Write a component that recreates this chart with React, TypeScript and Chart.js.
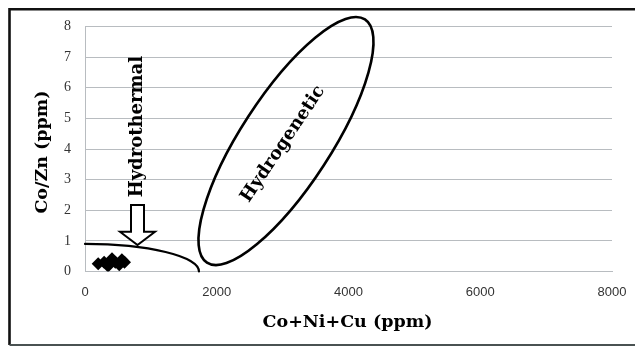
import React, { useEffect, useRef } from "react";
import { Chart, registerables } from "chart.js";

Chart.register(...registerables);

// Sample analyses: Co+Ni+Cu (ppm) against Co/Zn ratio
const sampleCoNiCu = [200, 290, 350, 410, 460, 520, 560, 600];
const sampleCoZn = [0.25, 0.3, 0.18, 0.42, 0.3, 0.22, 0.38, 0.3];

const xTickValues = [0, 2000, 4000, 6000, 8000];
const yTickValues = [0, 1, 2, 3, 4, 5, 6, 7, 8];

// Hydrogenetic field: major-axis end points (data units) and minor/major ratio
const hydrogeneticAxisStart = [1852, 0.29];
const hydrogeneticAxisEnd = [4250, 8.23];
const hydrogeneticAspect = 0.31;

// Hydrothermal field boundary: meets the x axis at limitX, the y axis at limitY
const hydrothermalLimitX = 1730;
const hydrothermalLimitY = 0.9;

// Arrow pointing at the hydrothermal field
const arrowX = 797;
const arrowTop = 2.17;
const arrowHeadBase = 1.3;
const arrowTip = 0.865;

// Field labels (anchor positions in data units)
const hydrothermalLabel = { text: "Hydrothermal", x: 797, y: 4.73, angle: -90 };
const hydrogeneticLabel = { text: "Hydrogenetic", x: 3006, y: 4.16, angle: -56 };

const xTitle = "Co+Ni+Cu (ppm)";
const yTitle = "Co/Zn (ppm)";

const TITLE_FONT = "bold 17.5px 'DejaVu Serif'";
const FIELD_FONT = "bold 18px 'DejaVu Serif'";

const fieldsPlugin = {
  id: "fields",
  afterDatasetsDraw(chart: any) {
    const { ctx, scales } = chart;
    const xs = scales.x;
    const ys = scales.y;
    const px = (v: number) => xs.getPixelForValue(v);
    const py = (v: number) => ys.getPixelForValue(v);

    ctx.save();
    ctx.strokeStyle = "#000";
    ctx.lineCap = "round";

    // hydrogenetic ellipse
    const x1 = px(hydrogeneticAxisStart[0]);
    const y1 = py(hydrogeneticAxisStart[1]);
    const x2 = px(hydrogeneticAxisEnd[0]);
    const y2 = py(hydrogeneticAxisEnd[1]);
    const cx = (x1 + x2) / 2;
    const cy = (y1 + y2) / 2;
    const a = Math.hypot(x2 - x1, y2 - y1) / 2;
    const rot = Math.atan2(y2 - y1, x2 - x1);
    ctx.lineWidth = 2.6;
    ctx.beginPath();
    ctx.ellipse(cx, cy, a, a * hydrogeneticAspect, rot, 0, Math.PI * 2);
    ctx.stroke();

    // hydrothermal boundary (quarter ellipse about the origin)
    const ox = px(0);
    const oy = py(0);
    const rx = px(hydrothermalLimitX) - ox;
    const ry = oy - py(hydrothermalLimitY);
    ctx.lineWidth = 2.2;
    ctx.beginPath();
    ctx.ellipse(ox, oy, rx, ry, 0, -Math.PI / 2, 0);
    ctx.stroke();

    // hollow arrow
    const ax = px(arrowX);
    const aTop = py(arrowTop);
    const aBase = py(arrowHeadBase);
    const aTip = py(arrowTip);
    const shaftHalf = 6.5;
    const headHalf = 17.5;
    ctx.lineWidth = 2;
    ctx.lineJoin = "miter";
    ctx.fillStyle = "#fff";
    ctx.beginPath();
    ctx.moveTo(ax - shaftHalf, aTop);
    ctx.lineTo(ax + shaftHalf, aTop);
    ctx.lineTo(ax + shaftHalf, aBase);
    ctx.lineTo(ax + headHalf, aBase);
    ctx.lineTo(ax, aTip);
    ctx.lineTo(ax - headHalf, aBase);
    ctx.lineTo(ax - shaftHalf, aBase);
    ctx.closePath();
    ctx.fill();
    ctx.stroke();

    // field labels
    ctx.fillStyle = "#000";
    ctx.font = FIELD_FONT;
    ctx.textAlign = "center";
    ctx.textBaseline = "middle";
    for (const lbl of [hydrothermalLabel, hydrogeneticLabel]) {
      ctx.save();
      ctx.translate(px(lbl.x), py(lbl.y));
      ctx.rotate((lbl.angle * Math.PI) / 180);
      ctx.fillText(lbl.text, 0, 0);
      ctx.restore();
    }
    ctx.restore();
  },
  afterDraw(chart: any) {
    const { ctx, width, height, chartArea } = chart;
    ctx.save();
    // axis titles
    ctx.fillStyle = "#000";
    ctx.font = TITLE_FONT;
    ctx.textAlign = "center";
    ctx.textBaseline = "middle";
    ctx.fillText(xTitle, (chartArea.left + chartArea.right) / 2 - 1, 322);
    ctx.save();
    ctx.translate(42, 152);
    ctx.rotate(-Math.PI / 2);
    ctx.fillText(yTitle, 0, 0);
    ctx.restore();

    // frame around the figure
    ctx.strokeStyle = "#111";
    ctx.lineWidth = 2.6;
    ctx.beginPath();
    ctx.moveTo(width + 5, 9.3);
    ctx.lineTo(9.5, 9.3);
    ctx.lineTo(9.5, height - 2);
    ctx.stroke();
    ctx.strokeStyle = "#4a5252";
    ctx.lineWidth = 2;
    ctx.beginPath();
    ctx.moveTo(9.5, height - 2);
    ctx.lineTo(width + 5, height - 2);
    ctx.stroke();
    ctx.restore();
  },
};

export default function App() {
  const canvasRef = useRef<HTMLCanvasElement | null>(null);

  useEffect(() => {
    const canvas = canvasRef.current;
    if (!canvas) return;
    const chart = new Chart(canvas, {
      type: "scatter",
      data: {
        datasets: [
          {
            label: "Samples",
            data: sampleCoNiCu.map((x, i) => ({ x, y: sampleCoZn[i] })),
            pointStyle: "rectRot",
            pointRadius: 6.5,
            pointBackgroundColor: "#000",
            pointBorderColor: "#000",
            pointBorderWidth: 0,
          },
        ],
      },
      options: {
        responsive: false,
        animation: false,
        events: [],
        layout: { padding: { left: 0, top: 26.5, right: 23, bottom: 0 } },
        plugins: {
          legend: { display: false },
          tooltip: { enabled: false },
        },
        scales: {
          x: {
            type: "linear",
            min: 0,
            max: 8000,
            afterBuildTicks: (scale: any) => {
              scale.ticks = xTickValues.map((value) => ({ value }));
            },
            afterFit: (scale: any) => {
              scale.height = 75.5;
              scale.paddingLeft = 0;
              scale.paddingRight = 0;
            },
            grid: { display: false, drawTicks: false },
            border: { display: true, color: "#b8bcc0", width: 1 },
            ticks: {
              padding: 13,
              color: "#333",
              font: { family: "'Liberation Sans'", size: 13 },
              maxRotation: 0,
              callback: (value: any) => String(value),
            },
          },
          y: {
            type: "linear",
            min: 0,
            max: 8,
            afterBuildTicks: (scale: any) => {
              scale.ticks = yTickValues.map((value) => ({ value }));
            },
            afterFit: (scale: any) => {
              scale.width = 85;
              scale.paddingTop = 0;
              scale.paddingBottom = 0;
            },
            grid: { display: true, drawTicks: false, color: "#b8bcc0", lineWidth: 1 },
            border: { display: true, color: "#b8bcc0", width: 1 },
            ticks: {
              padding: 14,
              color: "#333",
              font: { family: "'Liberation Serif'", size: 14 },
              callback: (value: any) => String(value),
            },
          },
        },
      },
      plugins: [fieldsPlugin],
    });
    return () => chart.destroy();
  }, []);

  return (
    <div style={{ position: "fixed", left: 0, top: 0, width: 635, height: 347, background: "#fff" }}>
      <canvas ref={canvasRef} width={635} height={347} style={{ display: "block" }} />
    </div>
  );
}
